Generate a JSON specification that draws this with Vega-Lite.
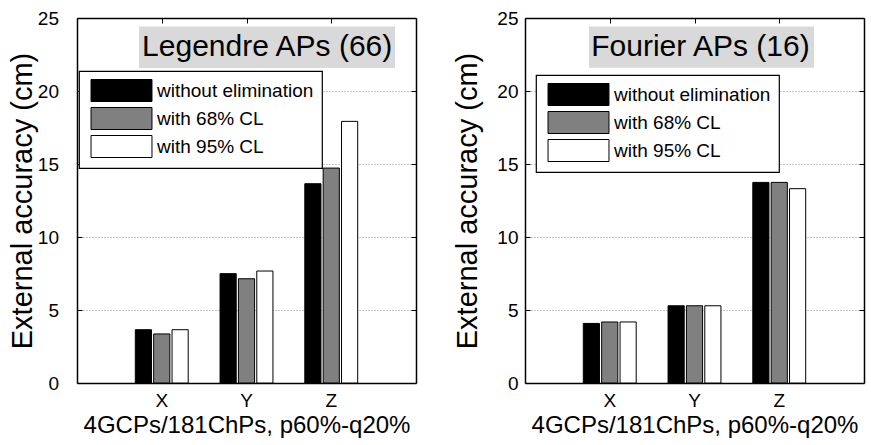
{
  "$schema": "https://vega.github.io/schema/vega-lite/v6.json",
  "background": "white",
  "padding": {"left": 8, "top": 9, "right": 5, "bottom": 2},
  "spacing": 36,
  "config": {
    "font": "Liberation Sans",
    "view": {"stroke": null},
    "axis": {
      "labelFont": "Liberation Sans",
      "labelFontSize": 19,
      "labelColor": "black",
      "titleFont": "Liberation Sans",
      "titleFontWeight": "normal",
      "titleColor": "black",
      "domainColor": "black",
      "domainWidth": 1.5,
      "tickColor": "black",
      "tickWidth": 1,
      "tickSize": -5,
      "grid": false
    },
    "legend": {
      "title": null,
      "fillColor": "white",
      "strokeColor": "black",
      "strokeWidth": 1.2,
      "padding": 8,
      "symbolType": "M-2.77,-1H2.77V1H-2.77Z",
      "symbolSize": 484,
      "symbolStrokeColor": "black",
      "symbolStrokeWidth": 1,
      "symbolOpacity": 1,
      "symbolOffset": 23,
      "labelOffset": 24,
      "labelFont": "Liberation Sans",
      "labelFontSize": 19,
      "labelColor": "black",
      "rowPadding": 1
    }
  },
  "data": {
    "values": [
      {"model": "Legendre", "axis": "X", "series": "without elimination", "value": 3.65},
      {"model": "Legendre", "axis": "X", "series": "with 68% CL", "value": 3.36},
      {"model": "Legendre", "axis": "X", "series": "with 95% CL", "value": 3.65},
      {"model": "Legendre", "axis": "Y", "series": "without elimination", "value": 7.49},
      {"model": "Legendre", "axis": "Y", "series": "with 68% CL", "value": 7.14},
      {"model": "Legendre", "axis": "Y", "series": "with 95% CL", "value": 7.67},
      {"model": "Legendre", "axis": "Z", "series": "without elimination", "value": 13.65},
      {"model": "Legendre", "axis": "Z", "series": "with 68% CL", "value": 14.72},
      {"model": "Legendre", "axis": "Z", "series": "with 95% CL", "value": 17.92},
      {"model": "Fourier", "axis": "X", "series": "without elimination", "value": 4.08},
      {"model": "Fourier", "axis": "X", "series": "with 68% CL", "value": 4.18},
      {"model": "Fourier", "axis": "X", "series": "with 95% CL", "value": 4.18},
      {"model": "Fourier", "axis": "Y", "series": "without elimination", "value": 5.29},
      {"model": "Fourier", "axis": "Y", "series": "with 68% CL", "value": 5.29},
      {"model": "Fourier", "axis": "Y", "series": "with 95% CL", "value": 5.29},
      {"model": "Fourier", "axis": "Z", "series": "without elimination", "value": 13.74},
      {"model": "Fourier", "axis": "Z", "series": "with 68% CL", "value": 13.74},
      {"model": "Fourier", "axis": "Z", "series": "with 95% CL", "value": 13.31}
    ]
  },
  "resolve": {"legend": {"fill": "independent"}},
  "hconcat": [
    {
      "width": 339,
      "height": 365,
      "resolve": {
        "scale": {"x": "independent"},
        "axis": {"x": "independent", "y": "independent"}
      },
      "layer": [
        {
          "transform": [{"filter": "datum.model == 'Legendre'"}],
          "mark": {"type": "bar", "stroke": "black", "strokeWidth": 1},
          "encoding": {
            "x": {
              "field": "axis", "type": "nominal",
              "scale": {"paddingInner": 0.376, "paddingOuter": 0.688},
              "axis": {"title": "4GCPs/181ChPs, p60%-q20%", "titleFontSize": 24, "titlePadding": 3, "labelAngle": 0, "labelPadding": 13}
            },
            "xOffset": {
              "field": "series", "type": "nominal",
              "sort": ["without elimination", "with 68% CL", "with 95% CL"],
              "scale": {"paddingInner": 0.12, "paddingOuter": 0}
            },
            "y": {
              "field": "value", "type": "quantitative",
              "scale": {"domain": [0, 25], "nice": false},
              "axis": {
                "title": "External accuracy (cm)", "titleFontSize": 29, "titlePadding": 0,
                "values": [0, 5, 10, 15, 20, 25], "labelPadding": 23.5,
                "grid": true, "gridColor": "#8c8c8c", "gridDash": [1, 2], "gridWidth": 1
              }
            },
            "fill": {
              "field": "series", "type": "nominal",
              "scale": {"domain": ["without elimination", "with 68% CL", "with 95% CL"], "range": ["#000000", "#808080", "#ffffff"]},
              "legend": {"orient": "none", "legendX": 2, "legendY": 53}
            }
          }
        },
        {
          "data": {"values": [{"label": "Legendre APs (66)"}]},
          "mark": {"type": "rect", "fill": "#d9d9d9"},
          "encoding": {
            "x": {
              "datum": 0.732, "type": "quantitative",
              "scale": {"domain": [0, 4], "nice": false, "zero": false},
              "axis": {"orient": "top", "values": [1, 2, 3], "labels": false, "title": null}
            },
            "x2": {"datum": 3.752},
            "y": {
              "datum": 24.42, "type": "quantitative",
              "axis": {"orient": "right", "values": [0, 5, 10, 15, 20, 25], "labels": false, "title": null}
            },
            "y2": {"datum": 21.58}
          }
        },
        {
          "data": {"values": [{"label": "Legendre APs (66)"}]},
          "mark": {"type": "text", "font": "Liberation Sans", "fontSize": 30, "color": "black", "align": "center", "baseline": "middle"},
          "encoding": {
            "x": {"datum": 2.244, "type": "quantitative", "scale": {"domain": [0, 4], "nice": false, "zero": false}, "axis": null},
            "y": {"datum": 23.0, "type": "quantitative", "axis": null},
            "text": {"field": "label"}
          }
        }
      ]
    },
    {
      "width": 339,
      "height": 365,
      "resolve": {
        "scale": {"x": "independent"},
        "axis": {"x": "independent", "y": "independent"}
      },
      "layer": [
        {
          "transform": [{"filter": "datum.model == 'Fourier'"}],
          "mark": {"type": "bar", "stroke": "black", "strokeWidth": 1},
          "encoding": {
            "x": {
              "field": "axis", "type": "nominal",
              "scale": {"paddingInner": 0.376, "paddingOuter": 0.688},
              "axis": {"title": "4GCPs/181ChPs, p60%-q20%", "titleFontSize": 24, "titlePadding": 3, "labelAngle": 0, "labelPadding": 13}
            },
            "xOffset": {
              "field": "series", "type": "nominal",
              "sort": ["without elimination", "with 68% CL", "with 95% CL"],
              "scale": {"paddingInner": 0.12, "paddingOuter": 0}
            },
            "y": {
              "field": "value", "type": "quantitative",
              "scale": {"domain": [0, 25], "nice": false},
              "axis": {
                "title": "External accuracy (cm)", "titleFontSize": 29, "titlePadding": 14,
                "values": [0, 5, 10, 15, 20, 25], "labelPadding": 12,
                "grid": true, "gridColor": "#8c8c8c", "gridDash": [1, 2], "gridWidth": 1
              }
            },
            "fill": {
              "field": "series", "type": "nominal",
              "scale": {"domain": ["without elimination", "with 68% CL", "with 95% CL"], "range": ["#000000", "#808080", "#ffffff"]},
              "legend": {"orient": "none", "legendX": 11, "legendY": 57}
            }
          }
        },
        {
          "data": {"values": [{"label": "Fourier APs (16)"}]},
          "mark": {"type": "rect", "fill": "#d9d9d9"},
          "encoding": {
            "x": {
              "datum": 0.755, "type": "quantitative",
              "scale": {"domain": [0, 4], "nice": false, "zero": false},
              "axis": {"orient": "top", "values": [1, 2, 3], "labels": false, "title": null}
            },
            "x2": {"datum": 3.41},
            "y": {
              "datum": 24.42, "type": "quantitative",
              "axis": {"orient": "right", "values": [0, 5, 10, 15, 20, 25], "labels": false, "title": null}
            },
            "y2": {"datum": 21.6}
          }
        },
        {
          "data": {"values": [{"label": "Fourier APs (16)"}]},
          "mark": {"type": "text", "font": "Liberation Sans", "fontSize": 30, "color": "black", "align": "center", "baseline": "middle"},
          "encoding": {
            "x": {"datum": 2.07, "type": "quantitative", "scale": {"domain": [0, 4], "nice": false, "zero": false}, "axis": null},
            "y": {"datum": 23.0, "type": "quantitative", "axis": null},
            "text": {"field": "label"}
          }
        }
      ]
    }
  ]
}
